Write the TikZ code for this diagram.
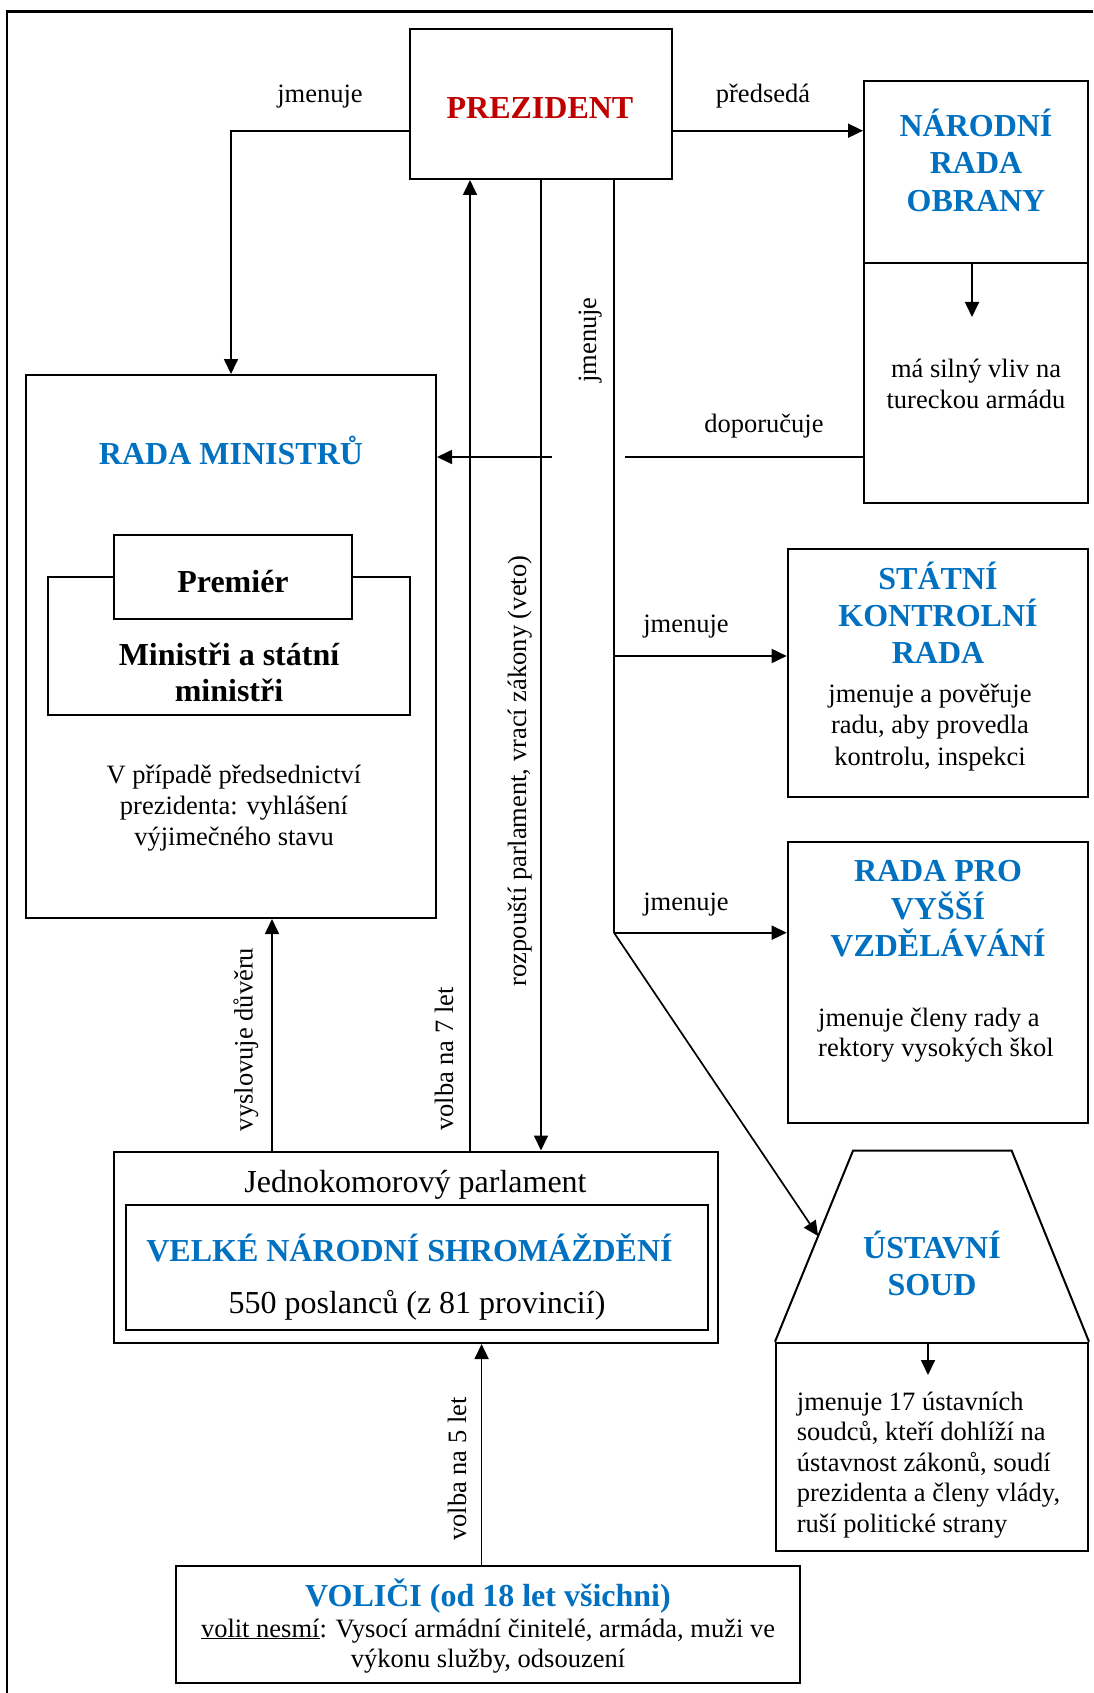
\documentclass[tikz,border=0pt]{standalone}
\usepackage{fontspec}
\setmainfont{Liberation Serif}
\usetikzlibrary{arrows.meta,calc}
\definecolor{myblue}{HTML}{0070C0}
\definecolor{myred}{HTML}{C00000}
\begin{document}
\begin{tikzpicture}[x=1pt,y=-1pt,
  box/.style={draw, line width=2pt, inner sep=0pt, fill=white},
  conn/.style={line width=1.7pt, -{Triangle[length=15pt,width=14pt]}},
  plain/.style={line width=1.7pt},
  sm/.style={font=\fontsize{26.5}{31}\selectfont, inner sep=0pt, anchor=base},
  smw/.style={font=\fontsize{26.5}{31}\selectfont, inner sep=0pt, anchor=base west},
  bg/.style={font=\fontsize{32}{37}\selectfont, inner sep=0pt, anchor=base},
  bgb/.style={font=\fontsize{32}{37}\selectfont\bfseries, inner sep=0pt, anchor=base},
  hd/.style={font=\fontsize{32}{37}\selectfont\bfseries, text=myblue, inner sep=0pt, anchor=base},
]
\useasboundingbox (0,0) rectangle (1093,1693);
% outer frame
\draw[line width=2.5pt] (7,1693) -- (7,11.7) -- (1093,11.7);

% boxes
\node[box, minimum width=262pt, minimum height=150pt] (pres) at (541,104) {};
\node[box, minimum width=224pt, minimum height=181.7pt] (nrotop) at (976,171.85) {};
\node[box, minimum width=224pt, minimum height=240.3pt] (nrobot) at (976,382.85) {};
\node[box, minimum width=410pt, minimum height=543pt] (rm) at (231,646.5) {};
\node[box, minimum width=362pt, minimum height=138pt] (min) at (229,646) {};
\node[box, minimum width=238.3pt, minimum height=84pt] (prem) at (232.85,577) {};
\node[box, minimum width=300.3pt, minimum height=248pt] (skr) at (937.85,673) {};
\node[box, minimum width=300.3pt, minimum height=281.3pt] (rpvv) at (937.85,982.35) {};
\node[box, minimum width=312pt, minimum height=208pt] (usb) at (932,1446.7) {};
\node[box, minimum width=604pt, minimum height=191.5pt] (parl) at (416,1247.25) {};
\node[box, minimum width=581.8pt, minimum height=124.5pt] (parlin) at (416.6,1267.25) {};
\node[box, minimum width=624pt, minimum height=117.3pt] (vol) at (488,1624.35) {};

% trapezoid of the constitutional court
\coordinate (ustl) at ($(usb.north west)+(78,-191)$);
\coordinate (ustr) at ($(usb.north east)+(-77.3,-191)$);
\draw[line width=2pt, line join=miter] (usb.north west) -- (ustl) -- (ustr) -- (usb.north east);

% helper coordinates
\coordinate (pw) at ($(pres.west)+(0,26.7)$);
\coordinate (pe) at ($(pres.east)+(0,26.7)$);
\coordinate (v7) at ([xshift=-71pt]pres.south);
\coordinate (jm) at ([xshift=73pt]pres.south);
\coordinate (j1) at ($(jm)+(0,476)$);
\coordinate (j2) at ($(jm)+(0,752.7)$);
\coordinate (ustip) at ($(ustl)!0.447!(usb.north west)$);
\coordinate (dp) at (625,457);
\coordinate (dp2) at (552,457);
\coordinate (vd) at (272,0);
\coordinate (v5) at (481.6,0);
\coordinate (nroa) at ([xshift=-4pt]nrotop.south);
\coordinate (nroe) at ($(nroa)+(0,53.3)$);
\coordinate (usa) at ([xshift=-4pt]usb.north);
\coordinate (use) at ($(usa)+(0,33.3)$);

% connectors
\draw[conn] (pw) -| (rm.north);
\draw[conn] (pe) -- (pe -| nrotop.west);
\draw[conn] (nroa) -- (nroe);
\draw[plain] (dp -| nrobot.west) -- (dp);
\draw[conn] (dp2) -- (dp2 -| rm.east);
\draw[conn] (v7 |- parl.north) -- (v7);
\draw[conn] (pres.south) -- (pres.south |- parl.north);
\draw[plain] (jm) -- (j2);
\draw[conn] (j1) -- (j1 -| skr.west);
\draw[conn] (j2) -- (j2 -| rpvv.west);
\draw[conn] (j2) -- (ustip);
\draw[conn] (usa) -- (use);
\draw[conn] (vd |- parl.north) -- (vd |- rm.south);
\draw[conn] (v5 |- vol.north) -- (v5 |- parl.south);

% texts
\node[sm] (t1) at (320,103) {jmenuje};
\node[bgb, text=myred] (t2) at (540,118.7) {PREZIDENT};
\node[sm] (t3) at (763,102.7) {předsedá};
\node[hd] (t4) at (976,136.7) {NÁRODNÍ};
\node[hd] (t5) at (976,174) {RADA};
\node[hd] (t6) at (976,211.5) {OBRANY};
\node[sm] (t7) at (976,377) {má silný vliv na};
\node[sm] (t8) at (976,408) {tureckou armádu};
\node[sm] (t9) at (764,432.7) {doporučuje};
\node[sm, rotate=90] (t10) at (596,340) {jmenuje};
\node[hd] (t11) at (231,464) {RADA MINISTRŮ};
\node[bgb] (t12) at (233,592.7) {Premiér};
\node[bgb] (t13) at (229,665) {Ministři a státní};
\node[bgb] (t14) at (229,701) {ministři};
\node[sm] (t15) at (234,783) {V případě předsednictví};
\node[sm] (t16) at (234,814) {prezidenta: vyhlášení};
\node[sm] (t17) at (234,845) {výjimečného stavu};
\node[sm] (t18) at (686,632.7) {jmenuje};
\node[hd] (t19) at (938,589) {STÁTNÍ};
\node[hd] (t20) at (938,626) {KONTROLNÍ};
\node[hd] (t21) at (938,663) {RADA};
\node[sm] (t22) at (930,702.7) {jmenuje a pověřuje};
\node[sm] (t23) at (930,733.5) {radu, aby provedla};
\node[sm] (t24) at (930,765) {kontrolu, inspekci};
\node[sm] (t25) at (686,910) {jmenuje};
\node[hd] (t26) at (938,881.7) {RADA PRO};
\node[hd] (t27) at (938,919) {VYŠŠÍ};
\node[hd] (t28) at (938,956.7) {VZDĚLÁVÁNÍ};
\node[smw] (t29) at (818,1026.7) {jmenuje členy rady a};
\node[smw] (t30) at (818,1056.7) {rektory vysokých škol};
\node[sm, rotate=90] (t31) at (526,771) {rozpouští parlament, vrací zákony (veto)};
\node[sm, rotate=90] (t32) at (453,1059) {volba na 7 let};
\node[sm, rotate=90] (t33) at (252.5,1039.5) {vyslovuje důvěru};
\node[bg] (t34) at (415.5,1192.5) {Jednokomorový parlament};
\node[hd] (t35) at (409.5,1261.4) {VELKÉ NÁRODNÍ SHROMÁŽDĚNÍ};
\node[bg] (t36) at (417,1313) {550 poslanců (z 81 provincií)};
\node[hd] (t37) at (932,1258) {ÚSTAVNÍ};
\node[hd] (t38) at (932,1295) {SOUD};
\node[smw] (t39) at (796.7,1410) {jmenuje 17 ústavních};
\node[smw] (t40) at (796.7,1440.5) {soudců, kteří dohlíží na};
\node[smw] (t41) at (796.7,1471) {ústavnost zákonů, soudí};
\node[smw] (t42) at (796.7,1501.5) {prezidenta a členy vlády,};
\node[smw] (t43) at (796.7,1532) {ruší politické strany};
\node[sm, rotate=90] (t44) at (466,1469) {volba na 5 let};
\node[hd] (t45) at (488,1606) {VOLIČI (od 18 let všichni)};
\node[sm] (t46) at (488,1637) {\underline{volit nesmí}: Vysocí armádní činitelé, armáda, muži ve};
\node[sm] (t47) at (488,1667.5) {výkonu služby, odsouzení};
\end{tikzpicture}
\end{document}
